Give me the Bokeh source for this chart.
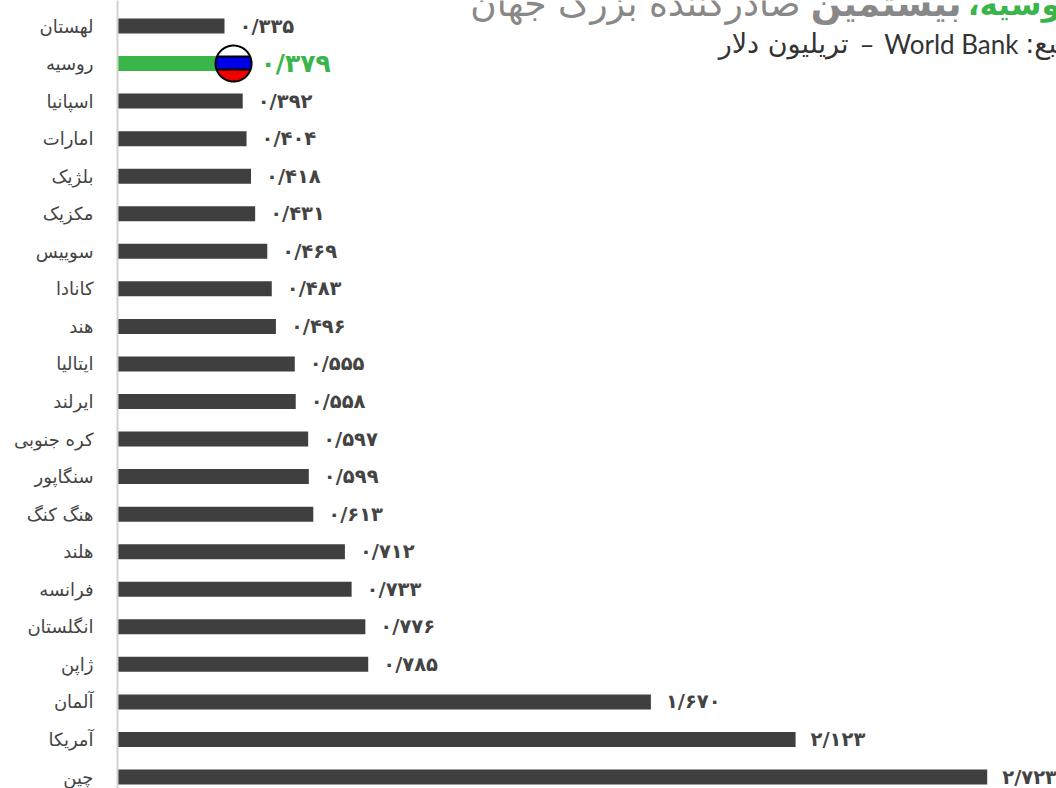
import numpy as np
from bokeh.plotting import figure
from bokeh.models import Range1d, FixedTicker, ColumnDataSource, Label
from bokeh.core.properties import value
from bokeh.embed import file_html
from bokeh.resources import INLINE

countries = ["لهستان","روسیه","اسپانیا","امارات","بلژیک","مکزیک","سوییس","کانادا","هند","ایتالیا","ایرلند","کره جنوبی","سنگاپور","هنگ کنگ","هلند","فرانسه","انگلستان","ژاپن","آلمان","آمریکا","چین"]
values = [0.335,0.379,0.392,0.404,0.418,0.431,0.469,0.483,0.496,0.555,0.558,0.597,0.599,0.613,0.712,0.733,0.776,0.785,1.670,2.123,2.723]
labels = ["۰/۳۳۵","۰/۳۷۹","۰/۳۹۲","۰/۴۰۴","۰/۴۱۸","۰/۴۳۱","۰/۴۶۹","۰/۴۸۳","۰/۴۹۶","۰/۵۵۵","۰/۵۵۸","۰/۵۹۷","۰/۵۹۹","۰/۶۱۳","۰/۷۱۲","۰/۷۳۳","۰/۷۷۶","۰/۷۸۵","۱/۶۷۰","۲/۱۲۳","۲/۷۲۳"]
highlight = "روسیه"
FONT = "DejaVu Sans"
W, H = 1056, 788
L = 117
PXU = 319.4
ROW = 37.55
Y0 = 25.5

ypos = list(range(len(countries)))
colors = ["#39b54a" if c == highlight else "#3f3f3f" for c in countries]
src = ColumnDataSource(dict(y=ypos, v=values, c=colors))

p = figure(width=W, height=H, output_backend="svg", toolbar_location=None,
           x_range=Range1d(0, (W - L) / PXU),
           y_range=Range1d((H - Y0) / ROW, -Y0 / ROW),
           min_border_left=L, min_border_top=0, min_border_right=0, min_border_bottom=0,
           outline_line_color=None, x_axis_location=None)
p.grid.visible = False
p.hbar(y="y", left=0, right="v", height=15 / ROW, fill_color="c", line_color=None, source=src)

ax = p.yaxis[0]
ax.ticker = FixedTicker(ticks=ypos)
ax.major_label_overrides = {i: c for i, c in enumerate(countries)}
ax.axis_line_color = "#d2d2d2"
ax.axis_line_width = 2
ax.major_tick_line_color = None
ax.minor_tick_line_color = None
ax.major_label_text_font = FONT
ax.major_label_text_font_size = "18px"
ax.major_label_text_color = "#444444"
ax.major_label_standoff = 18

idx = countries.index(highlight)
others = [i for i in ypos if i != idx]
lab = ColumnDataSource(dict(x=[values[i] + 15 / PXU for i in others], y=others, t=[labels[i] for i in others]))
p.text("x", "y", "t", source=lab, text_font=value(FONT), text_font_style="bold", text_font_size="19.5px",
       text_color="#444444", text_baseline="middle", text_align="left")
p.text([values[idx] + 22 / PXU], [idx], [labels[idx]], text_font=value(FONT), text_font_style="bold",
       text_font_size="25px", text_color="#39b54a", text_baseline="middle", text_align="left")

# round flag, drawn in pixel offsets around the end of the highlighted bar
cx = values[idx] - 5 / PXU
R = 18.0
def band(top, bot, color):
    a = np.linspace(np.arcsin(np.clip(top / R, -1, 1)), np.arcsin(np.clip(bot / R, -1, 1)), 40)
    xs = np.concatenate([R * np.cos(a), -R * np.cos(a[::-1])]) / PXU + cx
    ys = np.concatenate([R * np.sin(a), R * np.sin(a[::-1])]) / ROW + idx
    p.patch(xs, ys, fill_color=color, line_color=None)
band(-18, -7, "#ffffff")
band(-7, 6, "#0000e6")
band(6, 18, "#ee0000")
for yy in (-7, 6):
    hw = np.sqrt(R * R - yy * yy)
    p.line([cx - hw / PXU, cx + hw / PXU], [idx + yy / ROW] * 2, line_color="#000000", line_width=2)
t = np.linspace(0, 2 * np.pi, 120)
p.line(R * np.cos(t) / PXU + cx, R * np.sin(t) / ROW + idx, line_color="#000000", line_width=2)

def lbl(x, y, text, size, color, style="normal", font=FONT):
    p.add_layout(Label(x=x - L, y=H - y, x_units="screen", y_units="screen", text=text,
                       text_font=font, text_font_size=size, text_color=color, text_font_style=style,
                       text_align="right", text_baseline="middle"))
lbl(800, 3, "صادرکننده بزرگ جهان", "36px", "#888888")
lbl(961, 3, "بیستمین", "36px", "#888888", "bold")
lbl(1078, 3, "روسیه،\u200f", "31px", "#39b54a", "bold")
lbl(1079, 43, "منبع:\u200f", "27px", "#333333")
lbl(1018, 43, "World Bank", "26px", "#333333", font="Lato")
lbl(874, 43, "–", "26px", "#333333", font="Lato")
lbl(848, 43, "تریلیون دلار", "27px", "#333333")

open("out.html", "w").write(file_html(p, INLINE))
